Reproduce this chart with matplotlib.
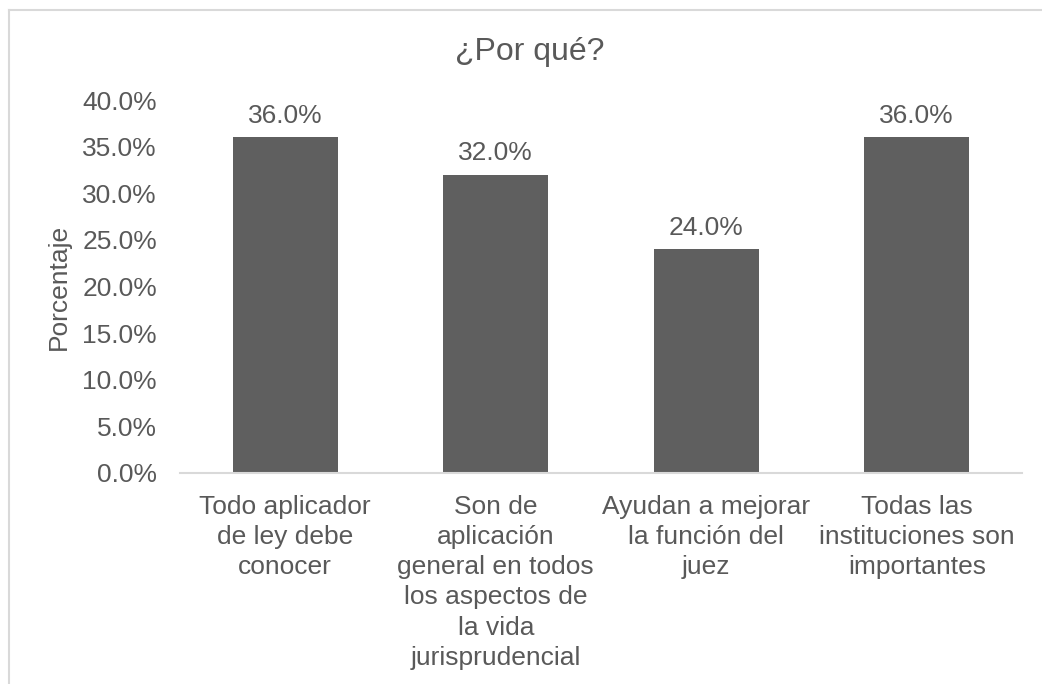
import matplotlib
matplotlib.use("Agg")
import matplotlib.pyplot as plt
from matplotlib.lines import Line2D

# data
categories = [
    "Todo aplicador\nde ley debe\nconocer",
    "Son de\naplicación\ngeneral en todos\nlos aspectos de\nla vida\njurisprudencial",
    "Ayudan a mejorar\nla función del\njuez",
    "Todas las\ninstituciones son\nimportantes",
]
values = [36.0, 32.0, 24.0, 36.0]
yticks = [0, 5, 10, 15, 20, 25, 30, 35, 40]

text_col = "#595959"
bar_col = "#5f5f5f"
line_col = "#d9d9d9"

plt.rcParams["font.family"] = ["Liberation Sans", "DejaVu Sans"]

fig = plt.figure(figsize=(10.42, 6.84), dpi=100)
ax = fig.add_axes([180 / 1042, 1 - 473 / 684, 842 / 1042, 373 / 684])

x = list(range(len(categories)))
ax.bar(x, values, width=0.5, color=bar_col)

for xi, v in zip(x, values):
    ax.text(xi, v + 1.0, f"{v:.1f}%", ha="center", va="bottom",
            fontsize=19, color=text_col)

ax.set_xlim(-0.5, len(categories) - 0.5)
ax.set_ylim(0, 40)
ax.set_yticks(yticks)
ax.set_yticklabels([f"{t:.1f}%" for t in yticks])
ax.set_xticks(x)
ax.set_xticklabels(categories, linespacing=1.32)
ax.tick_params(axis="both", length=0, labelsize=19, labelcolor=text_col)
ax.tick_params(axis="y", pad=16.5)
ax.tick_params(axis="x", pad=16)

for side in ["top", "right", "left"]:
    ax.spines[side].set_visible(False)
ax.spines["bottom"].set_color(line_col)
ax.spines["bottom"].set_linewidth(1.5)

fig.text(59 / 1042, 1 - 287 / 684, "Porcentaje", rotation=90,
         ha="center", va="center", fontsize=19, color=text_col)
fig.text(530 / 1042, 1 - 52 / 684, "¿Por qué?", ha="center", va="center",
         fontsize=23, color=text_col)

# chart area border (runs off the right and bottom edges)
fig.add_artist(Line2D([9 / 1042, 1.0], [1 - 10 / 684] * 2,
                      transform=fig.transFigure, color=line_col, lw=1.5))
fig.add_artist(Line2D([9 / 1042] * 2, [0.0, 1 - 10 / 684],
                      transform=fig.transFigure, color=line_col, lw=1.5))

fig.savefig("out.png", dpi=100)
